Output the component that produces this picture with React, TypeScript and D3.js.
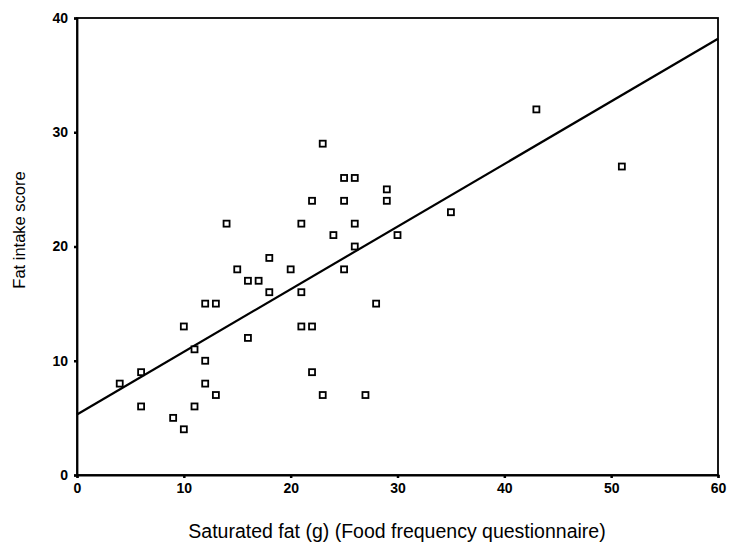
import React, { useRef, useEffect } from "react";
import * as d3 from "d3";

// saturated fat (g) per subject
const satFat = [
  4, 6, 6, 9, 10, 10, 11, 11, 12, 12, 12, 13, 13, 14, 15, 16, 16, 17, 18, 18, 20, 21, 21, 21,
  22, 22, 22, 23, 23, 24, 25, 25, 25, 26, 26, 26, 27, 28, 29, 29, 30, 35, 43, 51,
];
// matching fat intake score
const fatScore = [
  8, 9, 6, 5, 4, 13, 11, 6, 15, 10, 8, 15, 7, 22, 18, 17, 12, 17, 19, 16, 18, 22, 16, 13,
  24, 13, 9, 29, 7, 21, 26, 24, 18, 26, 22, 20, 7, 15, 25, 24, 21, 23, 32, 27,
];
const xTicks = [0, 10, 20, 30, 40, 50, 60];
const yTicks = [0, 10, 20, 30, 40];
// fitted line as drawn in the figure
const fitIntercept = 5.3;
const fitSlope = 0.548;

const App = () => {
  const svgRef = useRef<SVGSVGElement>(null);

  useEffect(() => {
    const width = 729;
    const height = 551;
    const margin = { top: 18, right: 11, bottom: 76, left: 77 };

    const svg = d3.select(svgRef.current);
    svg.selectAll("*").remove();
    svg.attr("width", width).attr("height", height);

    const x = d3.scaleLinear().domain([0, 60]).range([margin.left, width - margin.right]);
    const y = d3.scaleLinear().domain([0, 40]).range([height - margin.bottom, margin.top]);

    const font = "'Liberation Sans', Arial, sans-serif";

    // frame
    svg
      .append("rect")
      .attr("x", x(0))
      .attr("y", y(40))
      .attr("width", x(60) - x(0))
      .attr("height", y(0) - y(40))
      .attr("fill", "none")
      .attr("stroke", "#000")
      .attr("stroke-width", 1.8);

    /*** axes ***/
    const xAxis = svg
      .append("g")
      .attr("transform", `translate(0,${y(0)})`)
      .call(d3.axisBottom(x).tickValues(xTicks).tickSize(3).tickPadding(5).tickFormat(d3.format("d")));
    const yAxis = svg
      .append("g")
      .attr("transform", `translate(${x(0)},0)`)
      .call(d3.axisLeft(y).tickValues(yTicks).tickSize(3).tickPadding(6).tickFormat(d3.format("d")));

    [xAxis, yAxis].forEach((g) => {
      g.select(".domain").attr("stroke", "#000").attr("stroke-width", 1.8);
      g.selectAll(".tick line").attr("stroke", "#000").attr("stroke-width", 2.5);
      g.selectAll(".tick text")
        .attr("fill", "#000")
        .style("font-family", font)
        .style("font-size", "14px")
        .style("font-weight", "bold");
    });

    /*** regression line ***/
    svg
      .append("line")
      .attr("x1", x(0))
      .attr("y1", y(fitIntercept))
      .attr("x2", x(60))
      .attr("y2", y(fitIntercept + fitSlope * 60))
      .attr("stroke", "#000")
      .attr("stroke-width", 2.2);

    /*** points ***/
    const pts = satFat.map((v, i) => ({ sf: v, score: fatScore[i] }));
    const s = 6;
    svg
      .selectAll(".pt")
      .data(pts)
      .enter()
      .append("rect")
      .attr("class", "pt")
      .attr("x", (d) => x(d.sf) - s / 2)
      .attr("y", (d) => y(d.score) - s / 2)
      .attr("width", s)
      .attr("height", s)
      .attr("fill", "#fff")
      .attr("stroke", "#000")
      .attr("stroke-width", 1.8);

    /*** titles ***/
    svg
      .append("text")
      .attr("x", 397)
      .attr("y", 538)
      .attr("text-anchor", "middle")
      .style("font-family", font)
      .style("font-size", "19.5px")
      .attr("fill", "#000")
      .text("Saturated fat (g) (Food frequency questionnaire)");

    svg
      .append("text")
      .attr("transform", `translate(25,230) rotate(-90)`)
      .attr("text-anchor", "middle")
      .style("font-family", font)
      .style("font-size", "16.5px")
      .attr("fill", "#000")
      .text("Fat intake score");
  }, []);

  return (
    <div style={{ position: "absolute", left: 0, top: 0, background: "#fff" }}>
      <svg ref={svgRef} style={{ display: "block" }}></svg>
    </div>
  );
};

export default App;
